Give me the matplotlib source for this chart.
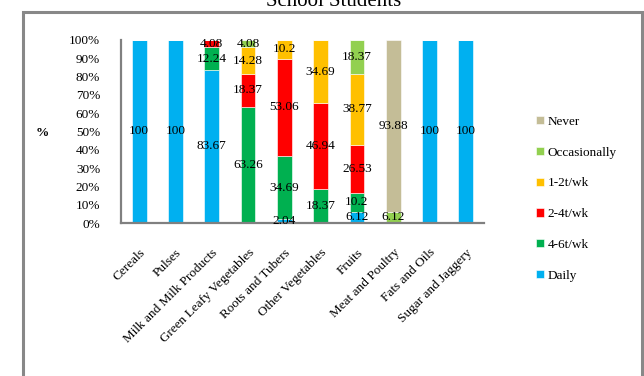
import matplotlib
matplotlib.use("Agg")
import matplotlib.pyplot as plt
from matplotlib.patches import Rectangle
import numpy as np

plt.rcParams['font.family'] = ['Liberation Serif', 'DejaVu Serif']

categories = ["Cereals", "Pulses", "Milk and Milk Products", "Green Leafy Vegetables",
              "Roots and Tubers", "Other Vegetables", "Fruits", "Meat and Poultry",
              "Fats and Oils", "Sugar and Jaggery"]

daily        = [100, 100, 83.67, 0,     2.04,  0,     6.12,  0,     100, 100]
t4_6_wk      = [0,   0,   12.24, 63.26, 34.69, 18.37, 10.2,  0,     0,   0]
t2_4_wk      = [0,   0,   4.08,  18.37, 53.06, 46.94, 26.53, 0,     0,   0]
t1_2_wk      = [0,   0,   0,     14.28, 10.2,  34.69, 38.77, 0,     0,   0]
occasionally = [0,   0,   0,     4.08,  0,     0,     18.37, 6.12,  0,   0]
never        = [0,   0,   0,     0,     0,     0,     0,     93.88, 0,   0]

series = [
    ("Daily", daily, "#00B0F0"),
    ("4-6t/wk", t4_6_wk, "#00B050"),
    ("2-4t/wk", t2_4_wk, "#FF0000"),
    ("1-2t/wk", t1_2_wk, "#FFC000"),
    ("Occasionally", occasionally, "#92D050"),
    ("Never", never, "#C4BD97"),
]

fig = plt.figure(figsize=(6.44, 3.76), dpi=100)
W, H = 644, 376
ax = fig.add_axes([121 / W, 1 - 223 / H, (484 - 121) / W, (223 - 40) / H])

x = np.arange(len(categories))
bottom = np.zeros(len(categories))
handles = []
for name, vals, color in series:
    vals = np.array(vals, dtype=float)
    bars = ax.bar(x, vals, width=0.41, bottom=bottom, color=color,
                  edgecolor="white", linewidth=0.4, label=name)
    handles.append(bars)
    for xi, v, b in zip(x, vals, bottom):
        if v > 0:
            ax.text(xi, b + v / 2, f"{v:g}", ha="center", va="center",
                    fontsize=9.5, color="black")
    bottom += vals

ax.set_xlim(-0.5, len(categories) - 0.5)
ax.set_ylim(0, 100)
ax.set_yticks(np.arange(0, 101, 10))
ax.set_yticklabels([f"{v}%" for v in range(0, 101, 10)], fontsize=9.5)
ax.set_xticks(x)
ax.set_xticklabels(categories, rotation=45, ha="right", va="top",
                   rotation_mode="anchor", fontsize=9.5)
ax.tick_params(axis="both", length=0)
ax.tick_params(axis="y", pad=15)
ax.tick_params(axis="x", pad=17)
for s in ["top", "right"]:
    ax.spines[s].set_visible(False)
for s in ["left", "bottom"]:
    ax.spines[s].set_color("#808080")
    ax.spines[s].set_linewidth(1.6)

# y-axis unit label
fig.text(42 / W, 1 - 133 / H, "%", ha="center", va="center",
         fontsize=9.5, fontweight="bold")

# legend, listed from top of stack to bottom
leg = fig.legend(handles[::-1], [s[0] for s in series][::-1],
                 loc="upper left", bbox_to_anchor=(524 / W, 1 - 104 / H),
                 frameon=False, fontsize=9.5, handlelength=0.6, handleheight=0.6,
                 handletextpad=0.3, labelspacing=1.42)

# title partly above the canvas
fig.text(334 / W, 1 - 6 / H, "School Students", ha="center", va="baseline",
         fontsize=15)

# outer chart frame
frame = Rectangle((23 / W, -0.1), (642 - 23) / W, (1 - 12 / H) + 0.1,
                  transform=fig.transFigure, fill=False,
                  edgecolor="#888888", linewidth=2.2, clip_on=False)
fig.patches.append(frame)

fig.savefig("out.png", dpi=100)
